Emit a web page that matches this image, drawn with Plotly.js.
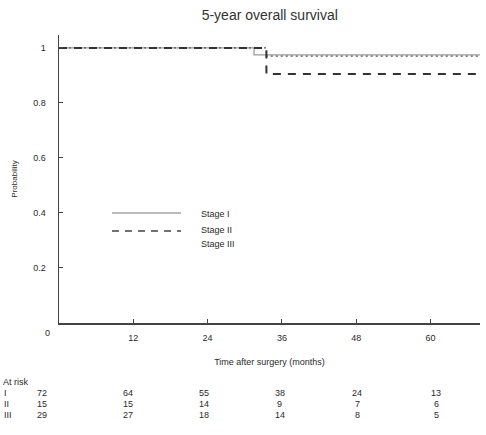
<!DOCTYPE html>
<html>
<head>
<meta charset="utf-8">
<script src="https://cdn.plot.ly/plotly-3.0.1.min.js"></script>
<style>html,body{margin:0;padding:0;background:#fff;}#chart{width:486px;height:435px;}</style>
</head>
<body>
<div id="chart"></div>
<script>
// Kaplan-Meier step data (months, probability)
var stage1Time = [0, 31.5, 68];
var stage1Prob = [1, 0.975, 0.975];
var stage2Time = [0, 33.5, 68];
var stage2Prob = [1, 0.905, 0.905];
var stage3Time = [0, 33.5, 68];
var stage3Prob = [1, 0.97, 0.97];

var seriesNames = ["Stage I", "Stage II", "Stage III"];
var xTicks = [12, 24, 36, 48, 60];
var yTicks = [0.2, 0.4, 0.6, 0.8, 1];
var yTickLabels = ["0.2", "0.4", "0.6", "0.8", "1"];

// Numbers at risk
var riskTimes = [0, 12, 24, 36, 48, 60];
var riskRowLabels = ["I", "II", "III"];
var riskStage1 = [72, 64, 55, 38, 24, 13];
var riskStage2 = [15, 15, 14, 9, 7, 6];
var riskStage3 = [29, 27, 18, 14, 8, 5];

var txt = "#2a2a2a";
var font = {family: "Liberation Sans, Arial, sans-serif", size: 9, color: txt};

var traces = [
  {x: stage1Time, y: stage1Prob, name: seriesNames[0], mode: "lines",
   line: {shape: "hv", color: "#9a9a9a", width: 1.3}},
  {x: stage3Time, y: stage3Prob, name: seriesNames[2], mode: "lines",
   line: {shape: "hv", color: "#555", width: 1.3, dash: "2px,3px"}},
  {x: stage2Time, y: stage2Prob, name: seriesNames[1], mode: "lines",
   line: {shape: "hv", color: "#333", width: 2, dash: "8px,7px"}}
];

var annotations = [];
// origin label
annotations.push({xref: "x", yref: "y", x: 0, y: 0, text: "0", showarrow: false,
  xanchor: "center", yanchor: "top", xshift: -12, yshift: -3, font: font});

// at risk table
var rowsData = [riskStage1, riskStage2, riskStage3];
var rowY = [393, 404, 415];
var colShift = [-17, -5, -4, -2, 1, 6];
annotations.push({xref: "paper", yref: "paper", x: -59/421, y: (323 - 382) / 288,
  text: "At risk", showarrow: false, xanchor: "left", yanchor: "middle", xshift: 1, font: font});
for (var r = 0; r < rowsData.length; r++) {
  annotations.push({xref: "paper", yref: "paper", x: -59/421, y: (323 - rowY[r]) / 288,
    text: riskRowLabels[r], showarrow: false, xanchor: "left", yanchor: "middle", xshift: 2, font: font});
  for (var c = 0; c < riskTimes.length; c++) {
    annotations.push({xref: "x", yref: "paper", x: riskTimes[c], y: (323 - rowY[r]) / 288,
      text: String(rowsData[r][c]), showarrow: false, xanchor: "center", yanchor: "middle",
      xshift: colShift[c], font: font});
  }
}

// legend (manual)
var legY = [213, 232, 245];
var shapes = [
  {type: "line", xref: "paper", yref: "paper", x0: (112-59)/421, x1: (181-59)/421,
   y0: (323-legY[0])/288, y1: (323-legY[0])/288, line: {color: "#777", width: 1.2}},
  {type: "line", xref: "paper", yref: "paper", x0: (112-59)/421, x1: (181-59)/421,
   y0: (323-legY[1]+1)/288, y1: (323-legY[1]+1)/288, line: {color: "#444", width: 1.4, dash: "7px,6px"}}
];
for (var i = 0; i < seriesNames.length; i++) {
  annotations.push({xref: "paper", yref: "paper", x: (199-59)/421, y: (323 - (i === 0 ? 214 : i === 1 ? 230 : 244)) / 288,
    text: seriesNames[i], showarrow: false, xanchor: "left", yanchor: "middle", font: font});
}

var layout = {
  width: 486, height: 435,
  margin: {l: 59, r: 6, t: 35, b: 112, pad: 0},
  paper_bgcolor: "#fff", plot_bgcolor: "#fff",
  showlegend: false,
  font: font,
  title: {text: "5-year overall survival", x: 0.555, xanchor: "center", y: 1 - 15/435, yanchor: "middle",
    yref: "container", xref: "container",
    font: {family: "Liberation Sans, Arial, sans-serif", size: 14, color: "#333"}},
  xaxis: {range: [0, 68], tickvals: xTicks, ticktext: xTicks.map(String),
    ticks: "inside", ticklen: 4, tickcolor: "#444", tickwidth: 1,
    showline: true, linecolor: "#444", linewidth: 1.5, showgrid: false, zeroline: false,
    ticklabelstandoff: 6,
    title: {text: "Time after surgery (months)", standoff: 16, font: font}},
  yaxis: {range: [0, 1.047], tickvals: yTicks, ticktext: yTickLabels,
    ticks: "inside", ticklen: 4, tickcolor: "#444", tickwidth: 1,
    showline: true, linecolor: "#444", linewidth: 1.5, showgrid: false, zeroline: false,
    ticklabelstandoff: 10,
    title: {text: "Probability", standoff: 14, font: {family: "Liberation Sans, Arial, sans-serif", size: 8, color: txt}}},
  annotations: annotations,
  shapes: shapes
};

Plotly.newPlot("chart", traces, layout, {displayModeBar: false, staticPlot: true});
</script>
</body>
</html>
